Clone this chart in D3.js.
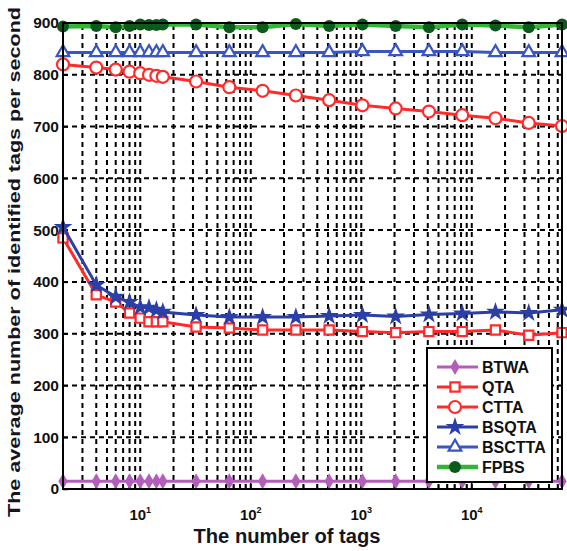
<!DOCTYPE html>
<html>
<head>
<meta charset="utf-8">
<script src="https://cdn.jsdelivr.net/npm/d3@7/dist/d3.min.js"></script>
<style>
  body { margin: 0; background: #fff; }
  svg { display: block; }
  text { font-family: "Liberation Sans", Arial, sans-serif; font-weight: bold; }
</style>
</head>
<body>
<div class="chart"></div>
<script>
// number of tags (x) and throughput of each protocol
const tags = [2, 4, 6, 8, 10, 12, 14, 16, 32, 64, 128, 256, 512, 1024, 2048, 4096, 8192, 16384, 32768, 65536]
const btwa = [15, 15, 15, 15, 15, 15, 15, 15, 15, 15, 15, 15, 15, 15, 15, 15, 15, 15, 15, 15]
const qta = [485, 375, 361, 340, 330, 323, 323, 323, 313, 311, 307, 307, 307, 304, 302, 304, 304, 307, 297, 302]
const ctta = [820, 814, 810, 806, 803, 800, 798, 796, 787, 776, 769, 760, 751, 741, 735, 729, 722, 716, 707, 701]
const bsqta = [506, 394, 371, 361, 351, 350, 346, 342, 336, 332, 332, 332, 334, 336, 333, 337, 339, 342, 340, 346]
const bsctta = [843, 843, 843, 843, 843, 843, 843, 843, 843, 843, 843, 843, 843, 845, 845, 845, 845, 843, 843, 843]
const fpbs = [893, 894, 892, 894, 897, 896, 896, 897, 897, 892, 892, 898, 894, 897, 894, 892, 897, 895, 892, 897]

const yTicks = [0, 100, 200, 300, 400, 500, 600, 700, 800, 900]
const xDecades = [1, 2, 3, 4]

const series = [
    { name: 'BTWA', values: btwa, color: '#b35ebb', marker: 'diamond' },
    { name: 'QTA', values: qta, color: '#ff2b2b', marker: 'square' },
    { name: 'CTTA', values: ctta, color: '#ff2b2b', marker: 'circle' },
    { name: 'BSQTA', values: bsqta, color: '#2b3fa6', marker: 'star' },
    { name: 'BSCTTA', values: bsctta, color: '#3a55c4', marker: 'triangle' },
    { name: 'FPBS', values: fpbs, color: '#35b535', marker: 'dot' }
]

const w = 567
const h = 551
const padLeft = 63, padRight = 562, padTop = 23, padBottom = 489

const svg = d3.select('.chart')
    .append('svg')
    .attr('width', w)
    .attr('height', h)

svg.append('rect').attr('width', w).attr('height', h).attr('fill', '#fff')

const xScale = d3.scaleLog()
    .domain([2, 65536])
    .range([padLeft, padRight])

const yScale = d3.scaleLinear()
    .domain([0, 900])
    .range([padBottom, padTop])

// grid: every minor position on the log axis, every 100 on y
let xGrid = []
for (let k = 0; k <= 4; k++) {
    for (let m = 1; m <= 9; m++) {
        const v = m * Math.pow(10, k)
        if (v > 2 && v < 65536) xGrid.push(v)
    }
}

const grid = svg.append('g')
    .attr('stroke', '#000')
    .attr('stroke-width', 2)
    .attr('stroke-dasharray', '5,4')

grid.selectAll('.vg')
    .data(xGrid)
    .enter()
    .append('line')
    .attr('x1', d => xScale(d))
    .attr('x2', d => xScale(d))
    .attr('y1', padBottom)
    .attr('y2', padTop)

grid.selectAll('.hg')
    .data(yTicks.slice(1, -1))
    .enter()
    .append('line')
    .attr('x1', padLeft)
    .attr('x2', padRight)
    .attr('y1', d => yScale(d))
    .attr('y2', d => yScale(d))

// y axis, ticks pointing inside
const yAxis = d3.axisLeft(yScale)
    .tickValues(yTicks)
    .tickSize(-5)
    .tickPadding(4)

const gy = svg.append('g')
    .attr('transform', 'translate(' + padLeft + ',0)')
    .call(yAxis)
gy.select('.domain').remove()
gy.selectAll('line').attr('stroke', '#000').attr('stroke-width', 1.5)
gy.selectAll('text')
    .attr('font-size', 15.5)
    .attr('font-family', '"Liberation Sans", Arial, sans-serif')
    .attr('font-weight', 'bold')
    .attr('fill', '#111')

// x axis: minor ticks inside along the bottom
svg.append('g').selectAll('line')
    .data(xGrid)
    .enter()
    .append('line')
    .attr('x1', d => xScale(d))
    .attr('x2', d => xScale(d))
    .attr('y1', padBottom)
    .attr('y2', d => padBottom - (xDecades.some(k => Math.pow(10, k) === d) ? 6 : 4))
    .attr('stroke', '#000')
    .attr('stroke-width', 1.5)

const xl = svg.append('g').selectAll('text')
    .data(xDecades)
    .enter()
    .append('text')
    .attr('x', d => xScale(Math.pow(10, d)))
    .attr('y', 520)
    .attr('text-anchor', 'middle')
    .attr('font-size', 15)
    .attr('font-family', '"Liberation Sans Narrow", "Liberation Sans", sans-serif')
    .attr('fill', '#111')
xl.append('tspan').text('10')
xl.append('tspan').attr('dy', -7).attr('font-size', 9).text(d => d)

// lines and markers
const line = d3.line()
    .x((d, i) => xScale(tags[i]))
    .y(d => yScale(d))

function marker(g, type, color) {
    if (type === 'diamond') {
        g.append('path').attr('d', d3.symbol(d3.symbolDiamond, 75)()).attr('fill', color)
    } else if (type === 'square') {
        g.append('path').attr('d', d3.symbol(d3.symbolSquare, 85)()).attr('fill', '#fff').attr('stroke', color).attr('stroke-width', 2.2)
    } else if (type === 'circle') {
        g.append('circle').attr('r', 6).attr('fill', '#fff').attr('stroke', color).attr('stroke-width', 2.2)
    } else if (type === 'star') {
        g.append('path').attr('d', d3.symbol(d3.symbolStar, 110)()).attr('fill', color)
    } else if (type === 'triangle') {
        g.append('path').attr('d', d3.symbol(d3.symbolTriangle, 70)()).attr('fill', '#fff').attr('stroke', color).attr('stroke-width', 2.2)
    } else {
        g.append('circle').attr('r', 6).attr('fill', '#0b5a1c')
    }
}

series.forEach(s => {
    svg.append('path')
        .datum(s.values)
        .attr('d', line)
        .attr('fill', 'none')
        .attr('stroke', s.color)
        .attr('stroke-width', s.marker === 'dot' ? 4.5 : 3)
    svg.append('g').selectAll('g')
        .data(s.values)
        .enter()
        .append('g')
        .attr('transform', (d, i) => 'translate(' + xScale(tags[i]) + ',' + yScale(d) + ')')
        .each(function () { marker(d3.select(this), s.marker, s.color) })
})

// frame
svg.append('rect')
    .attr('x', padLeft)
    .attr('y', padTop)
    .attr('width', padRight - padLeft)
    .attr('height', padBottom - padTop)
    .attr('fill', 'none')
    .attr('stroke', '#000')
    .attr('stroke-width', 2)

// legend
const lg = svg.append('g')
lg.append('rect')
    .attr('x', 427).attr('y', 348)
    .attr('width', 125).attr('height', 134)
    .attr('fill', '#fff')
    .attr('stroke', '#000')
    .attr('stroke-width', 2)

const items = lg.selectAll('.item')
    .data(series)
    .enter()
    .append('g')
    .attr('transform', (d, i) => 'translate(0,' + (367 + i * 20) + ')')
items.append('line')
    .attr('x1', 437).attr('x2', 478)
    .attr('stroke', d => d.color)
    .attr('stroke-width', d => d.marker === 'dot' ? 4.5 : 3)
items.append('g')
    .attr('transform', 'translate(455,0)')
    .each(function (d) { marker(d3.select(this), d.marker, d.color) })
items.append('text')
    .attr('x', 482)
    .attr('y', 6)
    .attr('font-size', 16)
    .attr('font-family', '"Liberation Sans Narrow", "Liberation Sans", sans-serif')
    .attr('fill', '#111')
    .text(d => d.name)

// axis titles
svg.append('text')
    .attr('x', 287)
    .attr('y', 543)
    .attr('text-anchor', 'middle')
    .attr('font-size', 20)
    .attr('textLength', 187)
    .attr('lengthAdjust', 'spacingAndGlyphs')
    .attr('fill', '#15151f')
    .text('The number of tags')

svg.append('text')
    .attr('transform', 'translate(20,262) rotate(-90)')
    .attr('text-anchor', 'middle')
    .attr('font-size', 17)
    .attr('textLength', 510)
    .attr('lengthAdjust', 'spacingAndGlyphs')
    .attr('fill', '#15151f')
    .text('The average number of identified tags per second')
</script>
</body>
</html>
